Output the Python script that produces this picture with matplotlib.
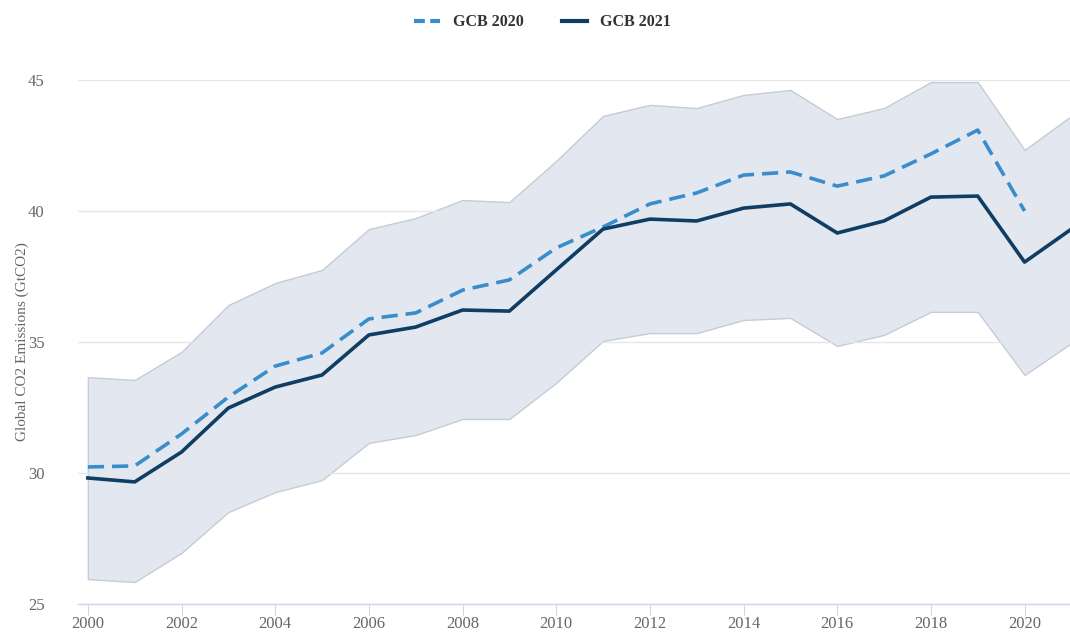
import numpy as np
import matplotlib
matplotlib.use("Agg")
import matplotlib.pyplot as plt
from matplotlib.lines import Line2D

# values (GtCO2)
years = np.arange(2000, 2022)
gcb2021 = [29.81, 29.66, 30.80, 32.48, 33.28, 33.74, 35.27, 35.57, 36.22, 36.18, 37.75,
           39.31, 39.69, 39.62, 40.11, 40.27, 39.16, 39.62, 40.53, 40.57, 38.05, 39.31]
gcb2020 = [30.23, 30.27, 31.49, 32.90, 34.08, 34.58, 35.88, 36.11, 36.98, 37.37, 38.59,
           39.39, 40.27, 40.69, 41.37, 41.49, 40.95, 41.34, 42.18, 43.09, 40.00]
band_hi = [33.66, 33.55, 34.62, 36.41, 37.25, 37.75, 39.31, 39.73, 40.42, 40.34, 41.91,
           43.63, 44.05, 43.93, 44.43, 44.62, 43.51, 43.93, 44.92, 44.92, 42.33, 43.63]
band_lo = [25.95, 25.84, 26.95, 28.51, 29.27, 29.73, 31.15, 31.45, 32.06, 32.06, 33.44,
           35.04, 35.34, 35.34, 35.84, 35.92, 34.85, 35.27, 36.15, 36.15, 33.74, 34.96]
yticks = [25, 30, 35, 40, 45]
xticks = list(range(2000, 2021, 2))

C20, C21 = "#3a8dcc", "#0f3d63"

plt.rcParams.update({"font.family": ["Liberation Serif", "DejaVu Serif"]})
fig = plt.figure(figsize=(10.7, 6.35), dpi=100)
ax = fig.add_axes([78 / 1070, 1 - 604 / 635, 1 - 78 / 1070, (604 - 80) / 635])

ax.fill_between(years, band_lo, band_hi, color="#e3e8f0", edgecolor="#c5ccd6", lw=1.0, zorder=1)
ax.plot(years[:len(gcb2020)], gcb2020, color=C20, lw=2.6, ls=(0, (4.5, 2.2)), zorder=3)
ax.plot(years, gcb2021, color=C21, lw=2.6, zorder=4)

ax.set_xlim(1999.79, 2020.97)
ax.set_ylim(25, 45)
ax.set_yticks(yticks)
ax.set_xticks(xticks)
ax.grid(axis="y", color="#e6e6e6", lw=1.0, zorder=0)
for s in ["top", "right", "left"]:
    ax.spines[s].set_visible(False)
ax.spines["bottom"].set_color("#ccd6eb")
ax.spines["bottom"].set_linewidth(1.0)
ax.tick_params(axis="y", length=0, pad=36, labelsize=12, labelcolor="#666666")
ax.tick_params(axis="x", length=8, color="#ccd6eb", pad=1, labelsize=12, labelcolor="#666666")
for lab in ax.get_yticklabels():
    lab.set_horizontalalignment("left")
ax.set_ylabel("Global CO2 Emissions (GtCO2)", fontsize=11, color="#666666")
ax.yaxis.set_label_coords(-0.049, 0.5)

handles = [Line2D([0], [0], color=C20, lw=3, ls=(0, (2.6, 1.3))),
           Line2D([0], [0], color=C21, lw=3)]
leg = fig.legend(handles, ["GCB 2020", "GCB 2021"], loc="upper center",
                 bbox_to_anchor=(0.507, 1.0), ncol=2, frameon=False,
                 prop={"weight": "bold", "size": 11.5}, handlelength=1.6, columnspacing=2.4,
                 handletextpad=0.8)
for t in leg.get_texts():
    t.set_color("#333333")
fig.savefig("out.png", dpi=100, facecolor="white")
